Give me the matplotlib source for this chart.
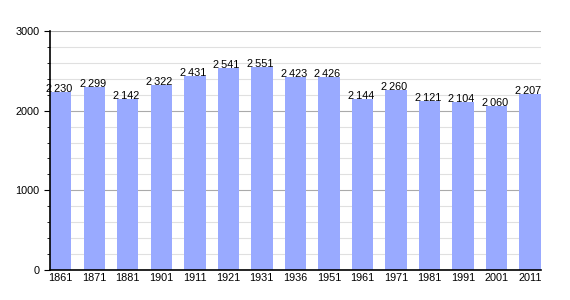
import matplotlib as mpl
mpl.use('Agg')
import matplotlib.pyplot as plt
from matplotlib.ticker import MultipleLocator

plt.rcParams['font.family'] = ['Liberation Sans', 'DejaVu Sans']

# recensements
annees = ["1861", "1871", "1881", "1901", "1911", "1921", "1931", "1936",
          "1951", "1961", "1971", "1981", "1991", "2001", "2011"]
population = [2230, 2299, 2142, 2322, 2431, 2541, 2551, 2423,
              2426, 2144, 2260, 2121, 2104, 2060, 2207]

fig = plt.figure(figsize=(5.7, 3.0), dpi=100)
ax = fig.add_axes([50/570, 30/300, 491/570, 239/300])

x = list(range(len(annees)))
ax.bar(x, population, width=0.64, color="#99aaff", zorder=2)

# étiquettes au-dessus des barres
for xi, v in zip(x, population):
    s = f"{v:,}".replace(",", "\u202f")
    ax.text(xi - 0.05, v - 25, s, ha="center", va="bottom", fontsize=7.8, zorder=3)

ax.set_xlim(-0.32, 14.33)
ax.set_ylim(0, 3000)
ax.set_xticks(x)
ax.set_xticklabels(annees, fontsize=7.8)
ax.yaxis.set_major_locator(MultipleLocator(1000))
ax.yaxis.set_minor_locator(MultipleLocator(200))
ax.tick_params(axis="y", which="major", labelsize=7.8, length=4, direction="out")
ax.tick_params(axis="y", which="minor", length=2, direction="out")
ax.tick_params(axis="x", length=0, pad=2)

# quadrillage
ax.grid(axis="y", which="major", color="#aaaaaa", lw=0.8, zorder=0)
ax.grid(axis="y", which="minor", color="#e0e0e0", lw=0.8, zorder=0)
ax.set_axisbelow(True)
for s in ["top", "right"]:
    ax.spines[s].set_visible(False)
ax.spines["left"].set_linewidth(1.2)
ax.spines["bottom"].set_linewidth(1.2)

plt.savefig("out.png")
